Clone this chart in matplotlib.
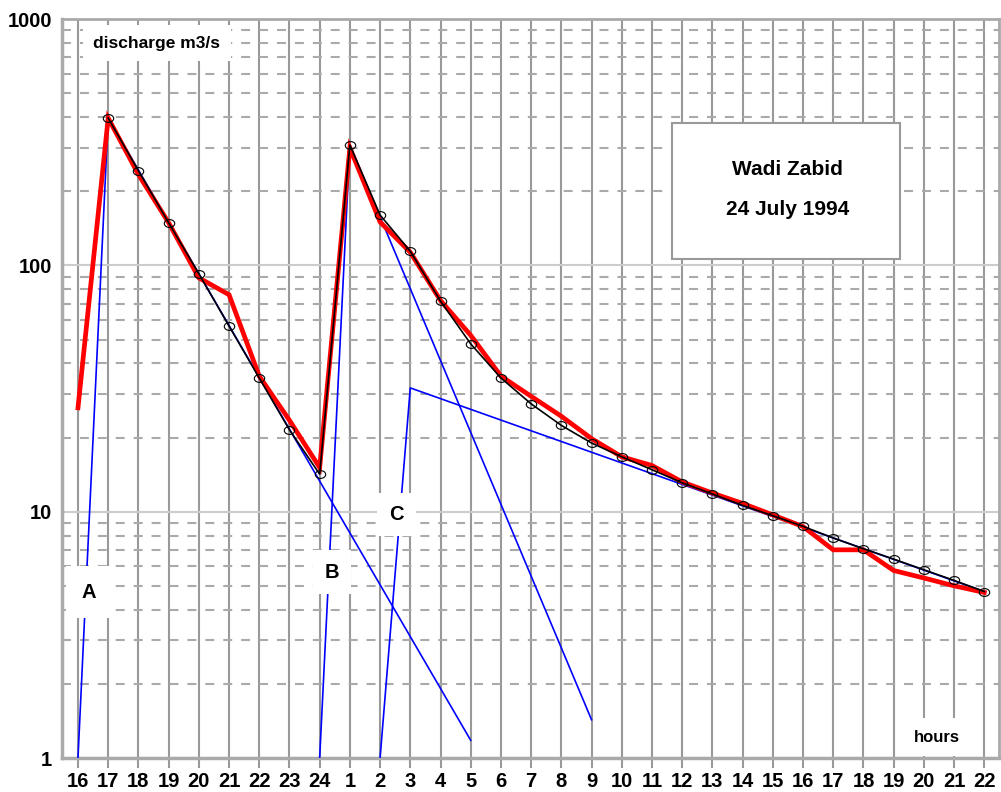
import numpy as np
import matplotlib
matplotlib.use('Agg')
import matplotlib.pyplot as plt
from matplotlib.path import Path
from matplotlib.patches import Rectangle
from matplotlib.ticker import LogLocator, NullFormatter, FixedLocator

plt.rcParams['font.family'] = ['Liberation Sans', 'DejaVu Sans']
plt.rcParams['font.weight'] = 'bold'

# --- data ---

HOURS = ['16', '17', '18', '19', '20', '21', '22', '23', '24',
         '1', '2', '3', '4', '5', '6', '7', '8', '9', '10', '11',
         '12', '13', '14', '15', '16', '17', '18', '19', '20', '21', '22']

# measured discharge (red), from 16h on 23 July
measured = [26.4, 396, 234, 149, 89, 76, 35.5, 23.5, 15.1,
            300, 150, 113, 72, 52, 35.5, 29.4, 24.4, 19.8, 16.7, 15.4,
            13.2, 11.9, 10.8, 9.7, 8.7, 7.0, 7.0, 5.77, 5.38, 5.0, 4.70]

# computed discharge (black with circles), from 17h on
computed = [396, 242, 149, 92.5, 56.7, 34.9, 21.5, 14.2,
            308, 160, 114, 71.6, 48, 34.9, 27.4, 22.4, 19.0, 16.7, 14.8,
            13.1, 11.8, 10.6, 9.63, 8.72, 7.82, 7.07, 6.42, 5.81, 5.26, 4.74]

# component hydrographs (blue): index positions and discharge
comp_a_x = [0, 1, 13]
comp_a_y = [1, 396, 1.18]
comp_b_x = [8, 9, 17]
comp_b_y = [1, 308, 1.43]
comp_c_x = [10, 11, 30]
comp_c_y = [1, 31.8, 4.74]

# --- plot ---

x = np.arange(len(HOURS))
x_comp = x[len(HOURS) - len(computed):]

fig = plt.figure(figsize=(10.01, 7.92), dpi=100)
ax = fig.add_axes([0.0619, 0.0429, 0.9365, 0.9331])

ax.set_yscale('log')
ax.set_ylim(1, 1000)
ax.set_xlim(-0.53, 30.5)

ax.plot(comp_a_x, comp_a_y, color='#0000ff', lw=1.2, zorder=3)
ax.plot(comp_b_x, comp_b_y, color='#0000ff', lw=1.2, zorder=3)
ax.plot(comp_c_x, comp_c_y, color='#0000ff', lw=1.2, zorder=3)

ax.plot(x, measured, color='#ff0000', lw=3.4, solid_joinstyle='miter', zorder=4)

# slightly flattened circle marker
circ = Path.unit_circle()
ellipse = Path(circ.vertices * [1.0, 0.75], circ.codes)
ax.plot(x_comp, computed, color='black', lw=1.2, zorder=5,
        marker=ellipse, markersize=7.5, markerfacecolor='none',
        markeredgecolor='black', markeredgewidth=0.8)

# axes styling
ax.set_xticks(x)
ax.set_xticklabels(HOURS)
ax.yaxis.set_major_locator(FixedLocator([1, 10, 100, 1000]))
ax.set_yticklabels(['1', '10', '100', '1000'])
ax.yaxis.set_minor_locator(LogLocator(base=10, subs=range(2, 10)))
ax.yaxis.set_minor_formatter(NullFormatter())

ax.set_axisbelow(True)
ax.grid(axis='x', color='#999999', lw=1.5)
ax.grid(axis='y', which='major', color='#cccccc', lw=1.5)
ax.grid(axis='y', which='minor', color='#aaaaaa', lw=1.5, linestyle=(0, (4.3, 4.3)))

ax.tick_params(axis='x', which='major', length=7, width=1.5, color='#999999',
               direction='out', pad=3, labelsize=14.5)
ax.tick_params(axis='y', which='both', length=0, pad=7, labelsize=14.5)

for side in ['left', 'bottom']:
    ax.spines[side].set_color('#aaaaaa')
    ax.spines[side].set_linewidth(2.5)
for side in ['top', 'right']:
    ax.spines[side].set_color('#aaaaaa')
    ax.spines[side].set_linewidth(2)

# labels with white boxes
box = dict(facecolor='white', edgecolor='none', boxstyle='square,pad=0.6')
ax.text(0.101, 0.9675, 'discharge m3/s', transform=ax.transAxes, fontsize=12.5,
        ha='center', va='center', bbox=box, zorder=10)
ax.text(0.933, 0.0284, 'hours', transform=ax.transAxes, fontsize=12,
        ha='center', va='center', bbox=dict(box, boxstyle='square,pad=0.7'), zorder=10)
ax.text(0.0288, 0.2246, 'A', transform=ax.transAxes, fontsize=14.5,
        ha='center', va='center', bbox=dict(box, boxstyle='square,pad=0.8'), zorder=10)
ax.text(0.288, 0.2517, 'B', transform=ax.transAxes, fontsize=14.5,
        ha='center', va='center', bbox=dict(box, boxstyle='square,pad=0.6'), zorder=10)
ax.text(0.357, 0.330, 'C', transform=ax.transAxes, fontsize=14.5,
        ha='center', va='center', bbox=dict(box, boxstyle='square,pad=0.6'), zorder=10)

ax.add_patch(Rectangle((0.651, 0.675), 0.243, 0.184, transform=ax.transAxes,
                       facecolor='white', edgecolor='#999999', lw=1.5, zorder=9))
ax.text(0.774, 0.7957, 'Wadi Zabid', transform=ax.transAxes, fontsize=15,
        ha='center', va='center', zorder=10)
ax.text(0.774, 0.7429, '24 July 1994', transform=ax.transAxes, fontsize=15,
        ha='center', va='center', zorder=10)

fig.savefig('out.png', dpi=100)
